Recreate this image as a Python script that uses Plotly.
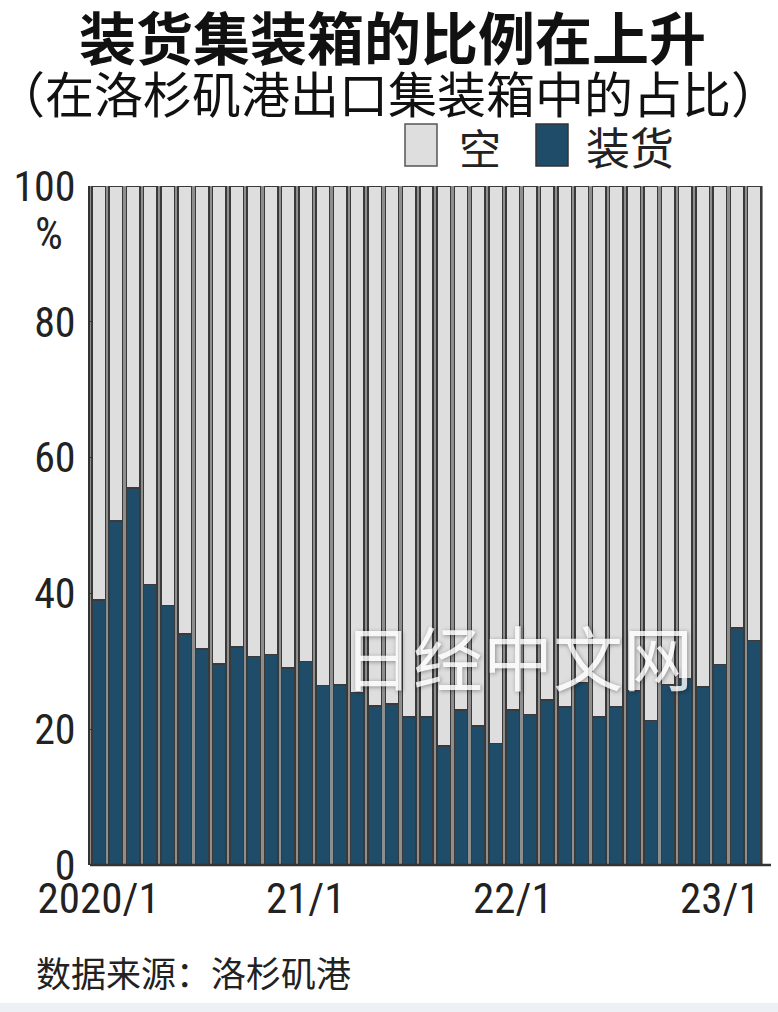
import plotly.graph_objects as go

# ---- data ----
months = [f"{y}/{m}" for y in (2020, 2021, 2022) for m in range(1, 13)] + ["2023/1", "2023/2", "2023/3"]
loaded = [39.0, 50.7, 55.5, 41.3, 38.2, 34.0, 31.8, 29.6, 32.1, 30.7, 31.0, 29.0,
          30.0, 26.4, 26.5, 25.4, 23.4, 23.7, 21.8, 21.8, 17.5, 22.8, 20.5, 17.9,
          22.8, 22.2, 24.3, 23.3, 26.9, 21.8, 23.3, 25.6, 21.3, 26.6, 27.4, 26.2,
          29.5, 34.9, 33.1]
empty = [round(100 - v, 1) for v in loaded]
tick_months = ["2020/1", "2021/1", "2022/1", "2023/1"]
tick_text = ["2020/1", "21/1", "22/1", "23/1"]
y_ticks = [0, 20, 40, 60, 80, 100]
y_tick_text = ["0", "20", "40", "60", "80", "100"]

title = "装货集装箱的比例在上升"
subtitle = "（在洛杉矶港出口集装箱中的占比）"
legend_names = ["空", "装货"]
source = "数据来源：洛杉矶港"
watermark = "日经中文网"

DARK = "#1f4c69"
LIGHT = "#dedede"
EDGE = "#3a3a3a"
CJK = "Noto Sans CJK SC, Noto Sans, sans-serif"
NARROW = "Liberation Sans Narrow, Roboto Condensed, DejaVu Sans Condensed, Liberation Sans, sans-serif"

W, H = 778, 1012
L, R, T, B = 90, 15, 186, 147

fig = go.Figure()
fig.add_trace(go.Bar(x=months, y=loaded, name=legend_names[1],
                     marker=dict(color=DARK, line=dict(color=EDGE, width=1.5)), showlegend=False))
fig.add_trace(go.Bar(x=months, y=empty, name=legend_names[0],
                     marker=dict(color=LIGHT, line=dict(color=EDGE, width=1.5)), showlegend=False))

fig.update_layout(
    width=W, height=H,
    margin=dict(l=L, r=R, t=T, b=B),
    barmode="stack", bargap=0.22,
    plot_bgcolor="#8e8e8e", paper_bgcolor="white",
    xaxis=dict(type="category", categoryorder="array", categoryarray=months,
               tickvals=tick_months, ticktext=tick_text, ticks="", showgrid=False,
               tickfont=dict(family=NARROW, size=43, color="#222"), ticklabelstandoff=4,
               showline=False, zeroline=False, automargin=False),
    yaxis=dict(range=[0, 100], tickvals=y_ticks, ticktext=y_tick_text,
               showgrid=False, zeroline=False, showline=True, linecolor="#333", linewidth=2,
               ticks="inside", ticklen=3, tickcolor="#333", automargin=False,
               tickfont=dict(family=NARROW, size=42, color="#222"), ticklabelstandoff=4),
    font=dict(family=CJK),
)


def px_x(p):
    return (p - L) / (W - L - R)


def px_y(p):
    return (H - B - p) / (H - T - B)


# axis baseline
fig.add_shape(type="line", xref="paper", yref="paper", x0=0, x1=px_x(771), y0=0, y1=0,
              line=dict(color="#333", width=2.5))

# title & subtitle
fig.add_annotation(text=f"<b>{title}</b>", xref="paper", yref="paper", x=px_x(392), y=px_y(35),
                   xanchor="center", yanchor="middle", showarrow=False,
                   font=dict(family=CJK, size=57, color="#111"))
fig.add_annotation(text=subtitle, xref="paper", yref="paper", x=px_x(388), y=px_y(91),
                   xanchor="center", yanchor="middle", showarrow=False,
                   font=dict(family=CJK, size=49, color="#111"))

# legend (custom)
fig.add_shape(type="rect", xref="paper", yref="paper", x0=px_x(405), x1=px_x(437), y0=px_y(166), y1=px_y(124),
              fillcolor=LIGHT, line=dict(color="#555", width=1.5))
fig.add_annotation(text=legend_names[0], x=px_x(457), y=px_y(146), xref="paper", yref="paper",
                   xanchor="left", yanchor="middle", showarrow=False,
                   font=dict(family=CJK, size=42, color="#222"))
fig.add_shape(type="rect", xref="paper", yref="paper", x0=px_x(536), x1=px_x(568), y0=px_y(166), y1=px_y(124),
              fillcolor=DARK, line=dict(color="#333", width=1.5))
fig.add_annotation(text=legend_names[1], x=px_x(584), y=px_y(146), xref="paper", yref="paper",
                   xanchor="left", yanchor="middle", showarrow=False,
                   font=dict(family=CJK, size=44, color="#222"))

# percent unit
fig.add_annotation(text="%", x=px_x(49), y=px_y(234), xref="paper", yref="paper",
                   xanchor="center", yanchor="middle", showarrow=False,
                   font=dict(family=NARROW, size=44, color="#222"))

# watermark
fig.add_annotation(text=watermark, x=px_x(518), y=px_y(655), xref="paper", yref="paper",
                   xanchor="center", yanchor="middle", showarrow=False, opacity=0.8,
                   font=dict(family=CJK, size=70, color="white", shadow="1px 1px 4px rgba(0,0,0,0.45)"))

# source
fig.add_annotation(text=source, x=px_x(34), y=px_y(972), xref="paper", yref="paper",
                   xanchor="left", yanchor="middle", showarrow=False,
                   font=dict(family=CJK, size=35, color="#222"))

# bottom strip
fig.add_shape(type="rect", xref="paper", yref="paper", x0=px_x(0), x1=px_x(W), y0=px_y(H), y1=px_y(1003),
              fillcolor="#edf1f6", line=dict(width=0), layer="below")

fig.write_html("out.html", config={"displayModeBar": False},
               post_script="document.body.style.margin='0';document.body.style.overflow='hidden';")
